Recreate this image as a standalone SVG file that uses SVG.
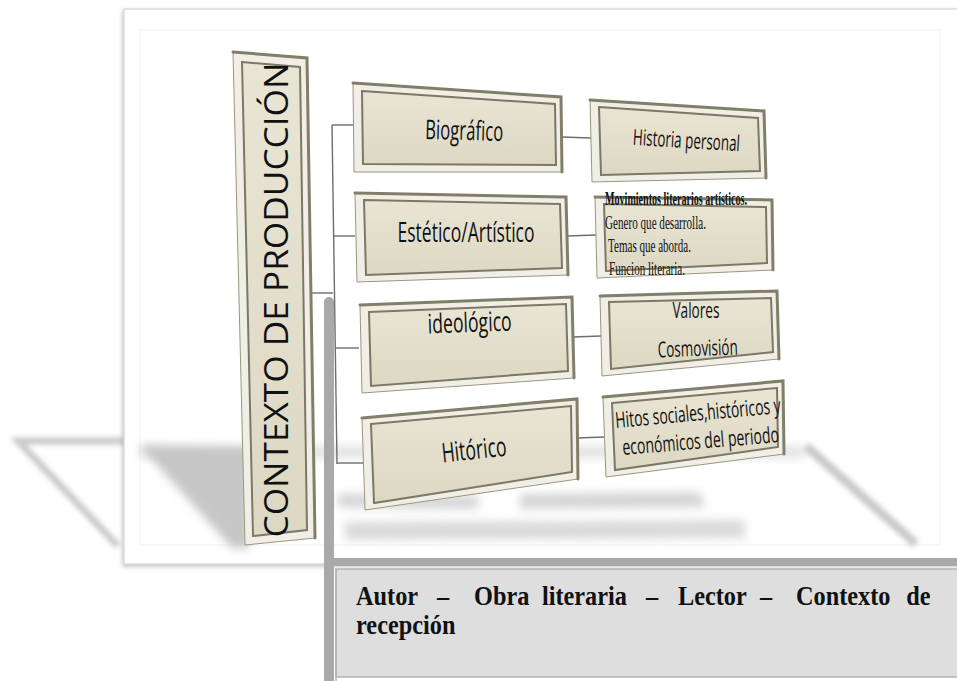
<svg xmlns="http://www.w3.org/2000/svg" width="957" height="681" viewBox="0 0 957 681">
<defs>
<filter id="blur8" x="-50%" y="-50%" width="200%" height="200%"><feGaussianBlur stdDeviation="5"/></filter>
<filter id="blur3" x="-50%" y="-50%" width="200%" height="200%"><feGaussianBlur stdDeviation="2.5"/></filter>
<filter id="fshadow" x="-5%" y="-5%" width="110%" height="110%"><feDropShadow dx="-1" dy="2" stdDeviation="2" flood-color="#000" flood-opacity="0.25"/></filter>
<linearGradient id="face" x1="0" y1="0" x2="0" y2="1"><stop offset="0" stop-color="#e9e5d4"/><stop offset="1" stop-color="#ddd8c3"/></linearGradient>
</defs>
<style>
.outer{fill:#f1efe5;stroke:#9a9682;stroke-width:1}
.edge{stroke:#817e6a;stroke-width:3;fill:none;stroke-linecap:round}
.inner{fill:url(#face);stroke:#7b7865;stroke-width:2}
.conn{stroke:#6e6e6e;stroke-width:1.4;fill:none}
.sans{font-family:"Open Sans","Noto Sans","Liberation Sans",sans-serif;fill:#111}
.serif{font-family:"Liberation Serif","Times New Roman",serif;fill:#111}
.sh{fill:#c6c6c6;filter:url(#blur8)}
.shl{stroke:#c9c9c9;fill:none;filter:url(#blur3)}
</style>
<rect width="957" height="681" fill="#ffffff"/>

<!-- outer reflection shadow left -->
<path class="shl" d="M124,441 L18,441 L118,546" stroke-width="7"/>

<!-- frame -->
<rect x="124" y="9" width="850" height="555" fill="#ffffff" stroke="#d2d2d2" stroke-width="1.2" filter="url(#fshadow)"/>
<rect x="140" y="30" width="800" height="515" fill="none" stroke="#f1f1f1" stroke-width="1"/>

<!-- reflection shadows inside frame -->
<g id="shadows">
<path class="sh" d="M140,446 L250,448 L250,548 L232,548 Z" fill="#bababa"/>
<path class="sh" d="M140,446 L805,446 L805,458 L140,458 Z" opacity="0.5"/>
<path class="sh" d="M338,494 L478,496 L478,509 L338,507 Z" opacity="0.75"/>
<path class="sh" d="M520,494 L700,492 L705,507 L520,509 Z" opacity="0.75"/>
<path class="sh" d="M345,522 L745,520 L745,538 L345,540 Z" opacity="0.65"/>
<path class="shl" d="M806,446 L916,544" stroke-width="9"/>
</g>

<!-- bottom text box with thick gray border -->
<g id="note">
<rect x="336" y="569" width="625" height="108" fill="#dedede" stroke="#b3b3b3" stroke-width="1.5"/>
<rect x="324" y="297" width="10" height="394" rx="5" fill="#a9a9a9"/>
<rect x="324" y="558" width="633" height="8" fill="#a9a9a9"/>
<line x1="336" y1="569" x2="336" y2="681" stroke="#b3b3b3" stroke-width="1.5"/>
<g transform="scale(0.9,1)">
<text class="serif" font-weight="bold" font-size="27" y="605"><tspan x="395.6">Autor</tspan><tspan x="485.6">–</tspan><tspan x="526.7">Obra</tspan><tspan x="602.2">literaria</tspan><tspan x="717.8">–</tspan><tspan x="753.3">Lector</tspan><tspan x="844.4">–</tspan><tspan x="884.4">Contexto</tspan><tspan x="1007">de</tspan></text>
<text class="serif" font-weight="bold" font-size="27" x="395.6" y="634">recepción</text>
</g>
</g>

<!-- connectors -->
<g id="connectors">
<path class="conn" d="M310,293 L333,293"/>
<path class="conn" d="M332,125 L337,464"/>
<path class="conn" d="M332,125 L353,125"/>
<path class="conn" d="M334,236 L355,236"/>
<path class="conn" d="M336,348 L359,348"/>
<path class="conn" d="M337,463 L363,463"/>
<path class="conn" d="M562,137 L591,138"/>
<path class="conn" d="M567,236 L596,235"/>
<path class="conn" d="M573,337 L601,336"/>
<path class="conn" d="M577,438 L604,437"/>
</g>

<!-- main vertical node -->
<g id="contexto">
<polygon class="outer" points="233,52 307,58 315,538 245,545"/>
<path class="edge" d="M233,52 L307,58 L315,538"/>
<polygon class="inner" points="242,62 300,67 307,530 253,536"/>
<text class="sans" font-size="33" text-anchor="middle" transform="translate(288,300) rotate(-90)" textLength="475" lengthAdjust="spacingAndGlyphs">CONTEXTO DE PRODUCCIÓN</text>
</g>

<g id="biografico">
<polygon class="outer" points="353,83 561,97 562,172 354,172"/>
<path class="edge" d="M353,83 L561,97 L562,172"/>
<polygon class="inner" points="362,91 555,104 556,165 363,164"/>
<g transform="translate(464,140) rotate(1.5)"><text class="sans" font-size="27" text-anchor="middle" textLength="78" lengthAdjust="spacingAndGlyphs">Biográfico</text></g>
</g>

<g id="estetico">
<polygon class="outer" points="355,193 566,197 568,275 357,282"/>
<path class="edge" d="M355,193 L566,197 L568,275"/>
<polygon class="inner" points="364,200 560,204 562,268 366,275"/>
<text class="sans" font-size="27" text-anchor="middle" x="466" y="242" textLength="137" lengthAdjust="spacingAndGlyphs">Estético/Artístico</text>
</g>

<g id="ideologico">
<polygon class="outer" points="360,305 572,297 574,378 362,393"/>
<path class="edge" d="M360,305 L572,297 L574,378"/>
<polygon class="inner" points="369,312 566,304 568,371 371,386"/>
<g transform="translate(470,332) rotate(-2)"><text class="sans" font-size="27" text-anchor="middle" textLength="84" lengthAdjust="spacingAndGlyphs">ideológico</text></g>
</g>

<g id="historico">
<polygon class="outer" points="362,418 577,399 578,479 365,510"/>
<path class="edge" d="M362,418 L577,399 L578,479"/>
<polygon class="inner" points="371,424 571,406 572,472 374,503"/>
<g transform="translate(475,459) rotate(-6)"><text class="sans" font-size="27" text-anchor="middle" textLength="65" lengthAdjust="spacingAndGlyphs">Hitórico</text></g>
</g>

<g id="historia-personal">
<polygon class="outer" points="590,100 764,111 766,178 592,182"/>
<path class="edge" d="M590,100 L764,111 L766,178"/>
<polygon class="inner" points="599,107 758,118 760,171 601,175"/>
<g transform="translate(686,148) rotate(3.5)"><text class="sans" font-size="22" text-anchor="middle" transform="scale(0.61,1)">Historia personal</text></g>
</g>

<g id="movimientos">
<polygon class="outer" points="595,197 772,200 773,270 597,278"/>
<path class="edge" d="M595,197 L772,200 L773,270"/>
<polygon class="inner" points="604,204 766,207 767,263 606,271"/>
<text class="serif" font-size="18" font-weight="bold" x="605" y="205" textLength="142" lengthAdjust="spacingAndGlyphs">Movimientos literarios artísticos.</text>
<text class="serif" font-size="18" x="605" y="229" textLength="101" lengthAdjust="spacingAndGlyphs">Genero que desarrolla.</text>
<text class="serif" font-size="18" x="608" y="252" textLength="83" lengthAdjust="spacingAndGlyphs">Temas que aborda.</text>
<text class="serif" font-size="18" x="609" y="275" textLength="76" lengthAdjust="spacingAndGlyphs">Funcion literaria.</text>
</g>

<g id="valores">
<polygon class="outer" points="600,296 777,291 779,359 602,376"/>
<path class="edge" d="M600,296 L777,291 L779,359"/>
<polygon class="inner" points="609,302 771,298 773,352 611,369"/>
<text class="sans" font-size="21" text-anchor="middle" x="696" y="318" textLength="47" lengthAdjust="spacingAndGlyphs">Valores</text>
<g transform="translate(698,356) rotate(-2)"><text class="sans" font-size="22" text-anchor="middle" textLength="80" lengthAdjust="spacingAndGlyphs">Cosmovisión</text></g>
</g>

<g id="hitos">
<polygon class="outer" points="603,397 783,381 784,454 606,477"/>
<path class="edge" d="M603,397 L783,381 L784,454"/>
<polygon class="inner" points="612,403 777,388 778,447 615,470"/>
<g transform="translate(616,428) rotate(-5.2)"><text class="sans" font-size="22" textLength="166" lengthAdjust="spacingAndGlyphs">Hitos sociales,históricos y</text></g>
<g transform="translate(623,455) rotate(-4.7)"><text class="sans" font-size="22" textLength="157" lengthAdjust="spacingAndGlyphs">económicos del periodo</text></g>
</g>
</svg>
